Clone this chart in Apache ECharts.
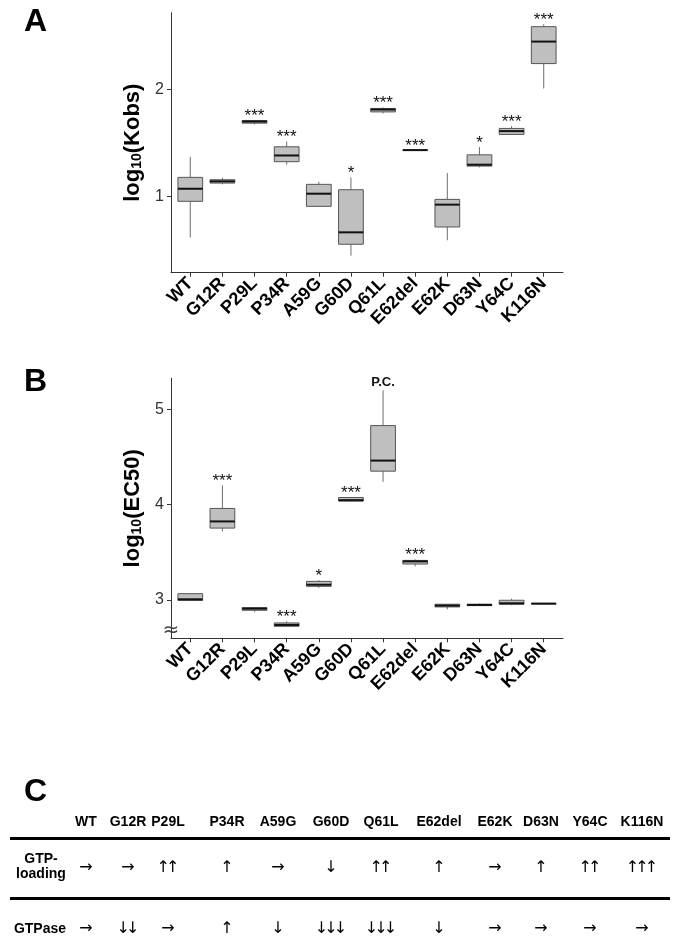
<!DOCTYPE html>
<html><head><meta charset="utf-8">
<script src="https://cdn.jsdelivr.net/npm/echarts@6/dist/echarts.min.js"></script>
<style>html,body{margin:0;padding:0;background:#fff}#c{width:680px;height:946px}</style>
</head><body><div id="c"></div>
<script>
// ---------- data ----------
const mutants = ['WT','G12R','P29L','P34R','A59G','G60D','Q61L','E62del','E62K','D63N','Y64C','K116N'];
// five-number summaries: [min, Q1, median, Q3, max]
const kobsBoxes = [
  [0.620, 0.957, 1.074, 1.180, 1.372],
  [1.115, 1.127, 1.143, 1.158, 1.177],
  [1.673, 1.685, 1.700, 1.710, 1.713],
  [1.298, 1.326, 1.384, 1.465, 1.515],
  [0.910, 0.910, 1.028, 1.115, 1.140],
  [0.451, 0.557, 0.668, 1.065, 1.180],
  [1.775, 1.790, 1.812, 1.822, 1.831],
  [1.432, 1.433, 1.434, 1.435, 1.436],
  [0.594, 0.718, 0.926, 0.975, 1.220],
  [1.273, 1.285, 1.298, 1.390, 1.462],
  [1.574, 1.580, 1.611, 1.636, 1.657],
  [2.008, 2.240, 2.445, 2.584, 2.606]
];
const kobsSig = ['', '', '***', '***', '', '*', '***', '***', '', '*', '***', '***'];
const kobsTicks = [1, 2];

const ec50Boxes = [
  [2.993, 2.995, 3.007, 3.066, 3.073],
  [3.719, 3.754, 3.824, 3.960, 4.204],
  [2.874, 2.892, 2.909, 2.920, 2.923],
  [2.724, 2.724, 2.738, 2.759, 2.777],
  [3.126, 3.143, 3.160, 3.195, 3.209],
  [4.033, 4.037, 4.047, 4.075, 4.078],
  [4.239, 4.351, 4.462, 4.829, 5.199],
  [3.353, 3.377, 3.405, 3.415, 3.426],
  [2.902, 2.927, 2.941, 2.955, 2.955],
  [2.938, 2.941, 2.948, 2.955, 2.962],
  [2.944, 2.955, 2.965, 2.997, 3.014],
  [2.960, 2.961, 2.962, 2.963, 2.964]
];
const ec50Sig = ['', '***', '', '***', '*', '***', 'P.C.', '***', '', '', '', ''];
const ec50Ticks = [3, 4, 5];

const rowLabels = ['GTP-\nloading', 'GTPase'];
const gtpLoading = ['→','→','↑↑','↑','→','↓','↑↑','↑','→','↑','↑↑','↑↑↑'];
const gtpase     = ['→','↓↓','→','↑','↓','↓↓↓','↓↓↓','↓','→','→','→','→'];

// ---------- layout / style ----------
const FONT = "'Liberation Sans', Arial, Helvetica, sans-serif";
const ARROW_FONT = "'DejaVu Sans', sans-serif";
const catIdx = mutants.map((_, i) => i);
const BOX_HALF = 0.385;
const colX = [86, 128, 168, 227, 278, 331, 381, 439, 495, 541, 590, 642];

function renderBox(sig) {
  return function (params, api) {
    const x = api.value(0);
    const lo = api.coord([x, api.value(1)]);
    const q1 = api.coord([x, api.value(2)]);
    const md = api.coord([x, api.value(3)]);
    const q3 = api.coord([x, api.value(4)]);
    const hi = api.coord([x, api.value(5)]);
    const hw = api.size([BOX_HALF, 0])[0];
    const children = [
      {type: 'line', shape: {x1: lo[0], y1: lo[1], x2: q1[0], y2: q1[1]}, style: {stroke: '#6e6e6e', lineWidth: 1}},
      {type: 'line', shape: {x1: q3[0], y1: q3[1], x2: hi[0], y2: hi[1]}, style: {stroke: '#6e6e6e', lineWidth: 1}},
      {type: 'rect', shape: {x: q3[0] - hw, y: q3[1], width: 2 * hw, height: Math.max(q1[1] - q3[1], 0.5)},
        style: {fill: '#bfbfbf', stroke: '#555', lineWidth: 1}},
      {type: 'line', shape: {x1: md[0] - hw, y1: md[1], x2: md[0] + hw, y2: md[1]}, style: {stroke: '#111', lineWidth: 2}}
    ];
    const s = sig[params.dataIndex];
    if (s) {
      const stars = s.indexOf('*') >= 0;
      children.push({type: 'text', style: {
        text: s, x: hi[0], y: hi[1] - (stars ? 4 : 8),
        align: 'center', verticalAlign: 'middle',
        font: stars ? ('17px ' + FONT) : ('bold 13px ' + FONT), fill: '#111'
      }});
    }
    return {type: 'group', children};
  };
}

function xAxisFor(gridIndex) {
  return {
    type: 'value', gridIndex, min: -0.6, max: 11.6,
    axisLine: {show: true, onZero: false, lineStyle: {color: '#333', width: 1}},
    axisTick: {show: true, customValues: catIdx, length: 4, lineStyle: {color: '#333'}},
    axisLabel: {customValues: catIdx, formatter: v => mutants[Math.round(v)], rotate: 45,
      fontFamily: FONT, fontWeight: 'bold', fontSize: 18, color: '#000', margin: 8},
    splitLine: {show: false}
  };
}
function yAxisFor(gridIndex, min, max, ticks, name) {
  return {
    type: 'value', gridIndex, min, max,
    name, nameLocation: 'middle', nameGap: 24, nameRotate: 90,
    nameTextStyle: {rich: {
      b: {fontFamily: FONT, fontWeight: 'bold', fontSize: 22, color: '#000'},
      s: {fontFamily: FONT, fontWeight: 'bold', fontSize: 14, color: '#000', verticalAlign: 'bottom'}
    }},
    axisLine: {show: true, onZero: false, lineStyle: {color: '#333', width: 1}},
    axisTick: {show: true, customValues: ticks, length: 4, lineStyle: {color: '#333'}},
    axisLabel: {customValues: ticks, fontFamily: FONT, fontSize: 16, color: '#333', margin: 7},
    splitLine: {show: false}
  };
}

// table graphics
const graphics = [];
graphics.push({type: 'text', left: 24, top: 6, style: {text: 'A', font: 'bold 32px ' + FONT, fill: '#000'}});
graphics.push({type: 'text', left: 24, top: 366, style: {text: 'B', font: 'bold 32px ' + FONT, fill: '#000'}});
graphics.push({type: 'text', left: 24, top: 776, style: {text: 'C', font: 'bold 32px ' + FONT, fill: '#000'}});
graphics.push({type: 'text', x: 171, y: 631, z: 10, style: {text: '≈', font: '20px ' + ARROW_FONT, fill: '#444', align: 'center', verticalAlign: 'middle'}});
mutants.forEach((m, i) => {
  graphics.push({type: 'text', x: colX[i], y: 822, style: {text: m, font: 'bold 14px ' + FONT, fill: '#000', align: 'center', verticalAlign: 'middle'}});
});
graphics.push({type: 'line', shape: {x1: 10, y1: 838.5, x2: 670, y2: 838.5}, style: {stroke: '#000', lineWidth: 3}});
graphics.push({type: 'line', shape: {x1: 10, y1: 898.5, x2: 670, y2: 898.5}, style: {stroke: '#000', lineWidth: 3}});
graphics.push({type: 'text', x: 41, y: 867, style: {text: rowLabels[0], font: 'bold 14px ' + FONT, lineHeight: 15, fill: '#000', align: 'center', verticalAlign: 'middle'}});
graphics.push({type: 'text', x: 40, y: 929, style: {text: rowLabels[1], font: 'bold 14px ' + FONT, fill: '#000', align: 'center', verticalAlign: 'middle'}});
function addArrows(arr, y) {
  arr.forEach((s, i) => {
    const chars = Array.from(s);
    const pitch = 9.5;
    chars.forEach((c, k) => {
      graphics.push({type: 'text', x: colX[i] + (k - (chars.length - 1) / 2) * pitch, y,
        style: {text: c, font: '16px ' + ARROW_FONT, fill: '#000', align: 'center', verticalAlign: 'middle'}});
    });
  });
}
addArrows(gtpLoading, 868);
addArrows(gtpase, 929);

const chart = echarts.init(document.getElementById('c'), null, {renderer: 'canvas'});
chart.setOption({
  animation: false,
  backgroundColor: '#fff',
  grid: [
    {left: 171, top: 12.7, width: 392, height: 260},
    {left: 171, top: 378.3, width: 392, height: 260}
  ],
  xAxis: [xAxisFor(0), xAxisFor(1)],
  yAxis: [
    yAxisFor(0, 0.292, 2.714, kobsTicks, '{b|log}{s|10}{b|(Kobs)}'),
    yAxisFor(1, 2.598, 5.325, ec50Ticks, '{b|log}{s|10}{b|(EC50)}')
  ],
  series: [
    {type: 'custom', xAxisIndex: 0, yAxisIndex: 0, renderItem: renderBox(kobsSig),
      encode: {x: 0, y: [1, 2, 3, 4, 5]}, clip: false,
      data: kobsBoxes.map((b, i) => [i].concat(b))},
    {type: 'custom', xAxisIndex: 1, yAxisIndex: 1, renderItem: renderBox(ec50Sig),
      encode: {x: 0, y: [1, 2, 3, 4, 5]}, clip: false,
      data: ec50Boxes.map((b, i) => [i].concat(b))}
  ],
  graphic: graphics
});
</script>
</body></html>
